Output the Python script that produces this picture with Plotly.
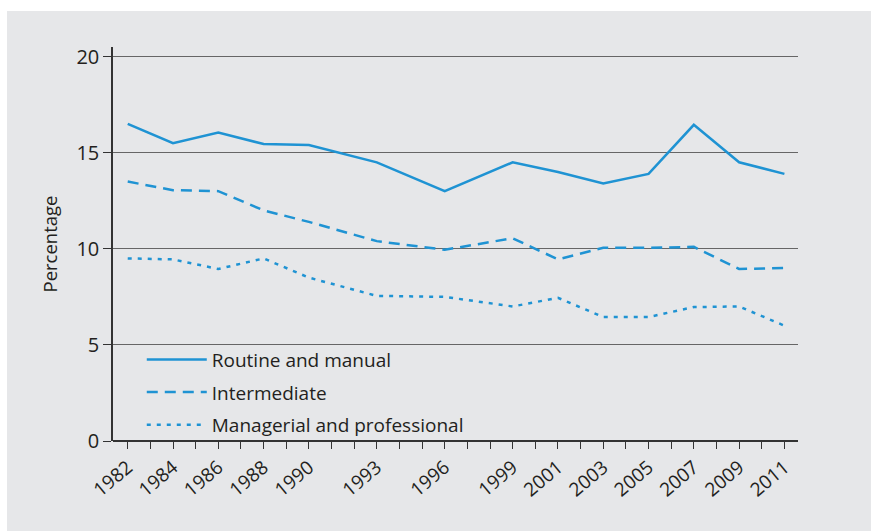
import plotly.graph_objects as go

years = [1982, 1984, 1986, 1988, 1990, 1993, 1996, 1999, 2001, 2003, 2005, 2007, 2009, 2011]
routine = [16.5, 15.5, 16.05, 15.45, 15.4, 14.5, 13.0, 14.5, 14.0, 13.4, 13.9, 16.45, 14.5, 13.9]
intermediate = [13.5, 13.05, 13.0, 12.0, 11.4, 10.4, 9.95, 10.55, 9.45, 10.05, 10.05, 10.1, 8.95, 9.0]
managerial = [9.5, 9.45, 8.95, 9.5, 8.5, 7.55, 7.5, 7.0, 7.45, 6.45, 6.45, 6.97, 7.0, 6.0]
y_ticks = [0, 5, 10, 15, 20]

blue = "#1f93d3"
font = "Open Sans"

fig = go.Figure()
fig.add_trace(go.Scatter(x=years, y=routine, mode="lines", name="Routine and manual",
                         legendgroup="a", line=dict(color=blue, width=2.5)))
fig.add_trace(go.Scatter(x=years, y=intermediate, mode="lines", name="Intermediate",
                         legendgroup="b", line=dict(color=blue, width=2.5, dash="11px,7px")))
fig.add_trace(go.Scatter(x=years, y=managerial, mode="lines", name="Managerial and professional",
                         legendgroup="c", line=dict(color=blue, width=2.5, dash="4px,6px")))

# grey panel behind the chart
fig.add_shape(type="rect", xref="paper", yref="paper", layer="below",
              x0=(7 - 113) / 685, x1=(880 - 113) / 685,
              y0=(441 - 540) / 394, y1=(441 - 11) / 394,
              fillcolor="#e6e7e9", line=dict(width=0))

fig.update_layout(
    width=871, height=531,
    margin=dict(l=113, r=73, t=47, b=90),
    paper_bgcolor="white",
    plot_bgcolor="rgba(0,0,0,0)",
    font=dict(family=font, color="#231f20"),
    showlegend=True,
    legend=dict(x=0.042, y=0.255, xanchor="left", yanchor="top",
                bgcolor="rgba(0,0,0,0)", font=dict(size=19, color="#231f20"),
                tracegroupgap=5, itemwidth=60),
    xaxis=dict(range=[1981.35, 2011.6], tickmode="array", tickvals=years,
               ticktext=[str(y) for y in years], tickangle=-40,
               tickfont=dict(size=19), ticks="outside", ticklen=7, tickcolor="#333",
               showgrid=False, showline=False, zeroline=False,
               minor=dict(tick0=1982, dtick=1, ticks="outside", ticklen=7, tickcolor="#333")),
    yaxis=dict(range=[0, 20.5], tickvals=y_ticks, tickfont=dict(size=20),
               ticks="outside", ticklen=8, tickcolor="#333",
               showgrid=True, gridcolor="#666", gridwidth=1.3,
               showline=True, linecolor="#333", linewidth=1.5,
               zeroline=True, zerolinecolor="#333", zerolinewidth=1.5,
               title=dict(text="Percentage", font=dict(size=18.5), standoff=14)),
)

fig.write_html("out.html", config={"displayModeBar": False},
               post_script="document.body.style.margin='0';")
